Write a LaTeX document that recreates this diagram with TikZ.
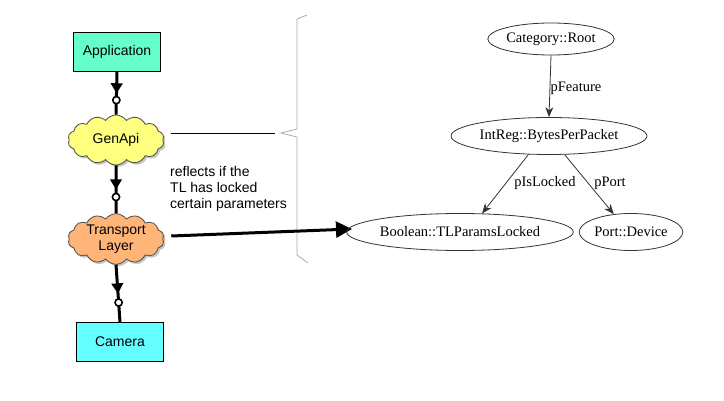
\documentclass[tikz,border=0pt]{standalone}
\usepackage{fontspec}
\newfontfamily\arialf{Liberation Sans}
\newfontfamily\timesf{Liberation Serif}
\usetikzlibrary{shapes.symbols,shapes.geometric,shadows,arrows.meta,decorations.markings}
\definecolor{appc}{RGB}{102,255,204}
\definecolor{camc}{RGB}{102,255,255}
\definecolor{gac}{RGB}{255,255,128}
\definecolor{tlc}{RGB}{255,180,120}
\definecolor{bracec}{RGB}{170,170,170}
\tikzset{
  boxnode/.style={draw=black, line width=1pt, minimum width=87pt, minimum height=39pt, inner sep=0pt, font=\arialf\fontsize{14}{16}\selectfont},
  cloudnode/.style={cloud, cloud puffs=14, cloud puff arc=110, draw=black!70, line width=0.8pt, minimum width=96pt, minimum height=50pt, inner sep=0pt, aspect=2, align=center, font=\arialf\fontsize{14}{16}\selectfont, drop shadow={shadow xshift=2pt, shadow yshift=-2pt, opacity=0.45}},
  ellnode/.style={ellipse, draw=black!80, line width=0.8pt, inner sep=0pt, minimum height=36pt, font=\timesf\fontsize{14.5}{16}\selectfont},
  lblnode/.style={font=\timesf\fontsize{14.5}{16}\selectfont, inner sep=0pt},
  stackarrow/.style={line width=3pt, postaction={decorate}, decoration={markings,
      mark=at position 0.50 with {\arrow[line width=1pt]{Triangle[length=10pt,width=12pt]}},
      mark=at position 0.66 with {\draw[fill=white, line width=1.6pt] (0,0) circle (3.6pt);}}},
  graphedge/.style={draw=black!80, line width=0.8pt, -{Stealth[length=10pt,width=8pt]}},
}
\begin{document}
\begin{tikzpicture}[x=1pt,y=-1pt]
\useasboundingbox (0,0) rectangle (724,401);
% left stack
\node[boxnode, fill=appc] (app) at (117,52) {Application};
\node[cloudnode, fill=gac] (ga) at (116,140) {GenApi};
\node[cloudnode, fill=tlc] (tl) at (116,239) {Transport\\Layer};
\node[boxnode, fill=camc] (cam) at (120,342) {Camera};
\draw[stackarrow] (app.south) -- (ga.north);
\draw[stackarrow] (ga.south) -- (tl.north);
\draw[stackarrow] (tl.south) -- (cam.north);
% text
\node[anchor=west, align=left, inner sep=0pt, font=\arialf\fontsize{14}{16}\selectfont] (txt) at (170,189) {reflects if the\\TL has locked\\certain parameters};
% line from GenApi to brace
\coordinate (gaend) at (275,133);
\draw[line width=0.9pt] (ga.east |- gaend) ++(8,0) coordinate (gastart) -- (gaend);
% brace
\draw[bracec, line width=0.8pt] (307,15) -- (297,19) -- (297,129) -- (281,133) -- (297,137) -- (297,255) -- (308,263);
% big arrow
\coordinate (bigend) at (352,229);
\draw[line width=3pt, -{Triangle[length=16pt,width=16pt]}] (tl.east) ++(8,-3) coordinate (tlstart) -- (bigend);
% right graph
\node[ellnode, minimum width=111pt, minimum height=32pt] (cat) at (551,39) {Category::Root};
\node[ellnode, minimum width=169pt, minimum height=37pt] (ir) at (549,136) {IntReg::BytesPerPacket};
\node[ellnode, minimum width=186pt, minimum height=37pt] (bool) at (460,232) {Boolean::TLParamsLocked};
\node[ellnode, minimum width=102pt, minimum height=37pt] (port) at (631,232) {Port::Device};
\draw[graphedge] (cat.south) -- (ir.north);
\draw[graphedge] (ir.222) -- (bool.40);
\draw[graphedge] (ir.310) -- (port.134);
\node[lblnode] (l1) at (576,88) {pFeature};
\node[lblnode] (l2) at (545,183) {pIsLocked};
\node[lblnode] (l3) at (610,183) {pPort};
\end{tikzpicture}
\end{document}
